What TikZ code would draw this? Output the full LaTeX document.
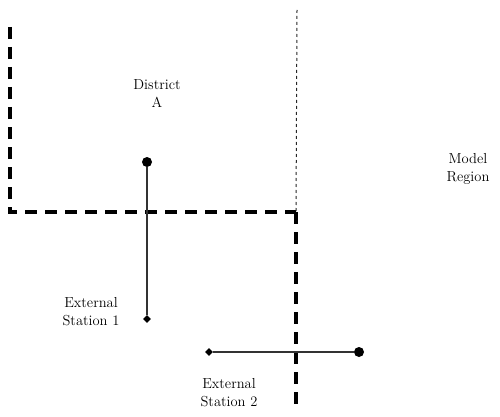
\documentclass[tikz,border=0pt]{standalone}
\usepackage{tikz}
\usetikzlibrary{shapes.geometric,positioning}
\tikzset{dot/.style={circle,fill=black,inner sep=0pt,minimum size=10pt}}
\tikzset{dia/.style={diamond,fill=black,inner sep=0pt,minimum size=8pt}}
\tikzset{lbl/.style={align=center,font=\fontsize{14.5}{18}\selectfont}}
\tikzset{border/.style={line width=3.5pt,dash pattern=on 12pt off 8pt}}
\tikzset{link/.style={line width=1.5pt,black!80}}

\begin{document}
\begin{tikzpicture}[x=1pt,y=-1pt]
        \useasboundingbox (0,0) rectangle (500,417);

        \coordinate (tl) at (10,27);
        \coordinate (bl) at (10,212);
        \coordinate (br) at (296,212);
        \coordinate (bb) at (296,410);
        \coordinate (dt) at (297,10);

        \node[lbl] (dist) at (157,94) {District\\A};
        \node[lbl] (model) at (468,169) {Model\\Region};
        \node[lbl] (ext1) at (91,312) {External\\Station 1};
        \node[lbl] (ext2) at (229,393) {External\\Station 2};

        \node[dot] (c1) at (147,162) {};
        \node[dia] (d1) at (147,319) {};
        \node[dia] (d2) at (209,352) {};
        \node[dot] (c2) at (359,352) {};

        \draw [border] (tl) -- (bl) -- (br);
        \draw [border] (br) -- (bb);
        \draw [dash pattern=on 3pt off 3pt,line width=1pt,black!85] (dt) -- (br);
        \draw [link] (c1) -- (d1);
        \draw [link] (d2) -- (c2);
    \end{tikzpicture}
\end{document}
